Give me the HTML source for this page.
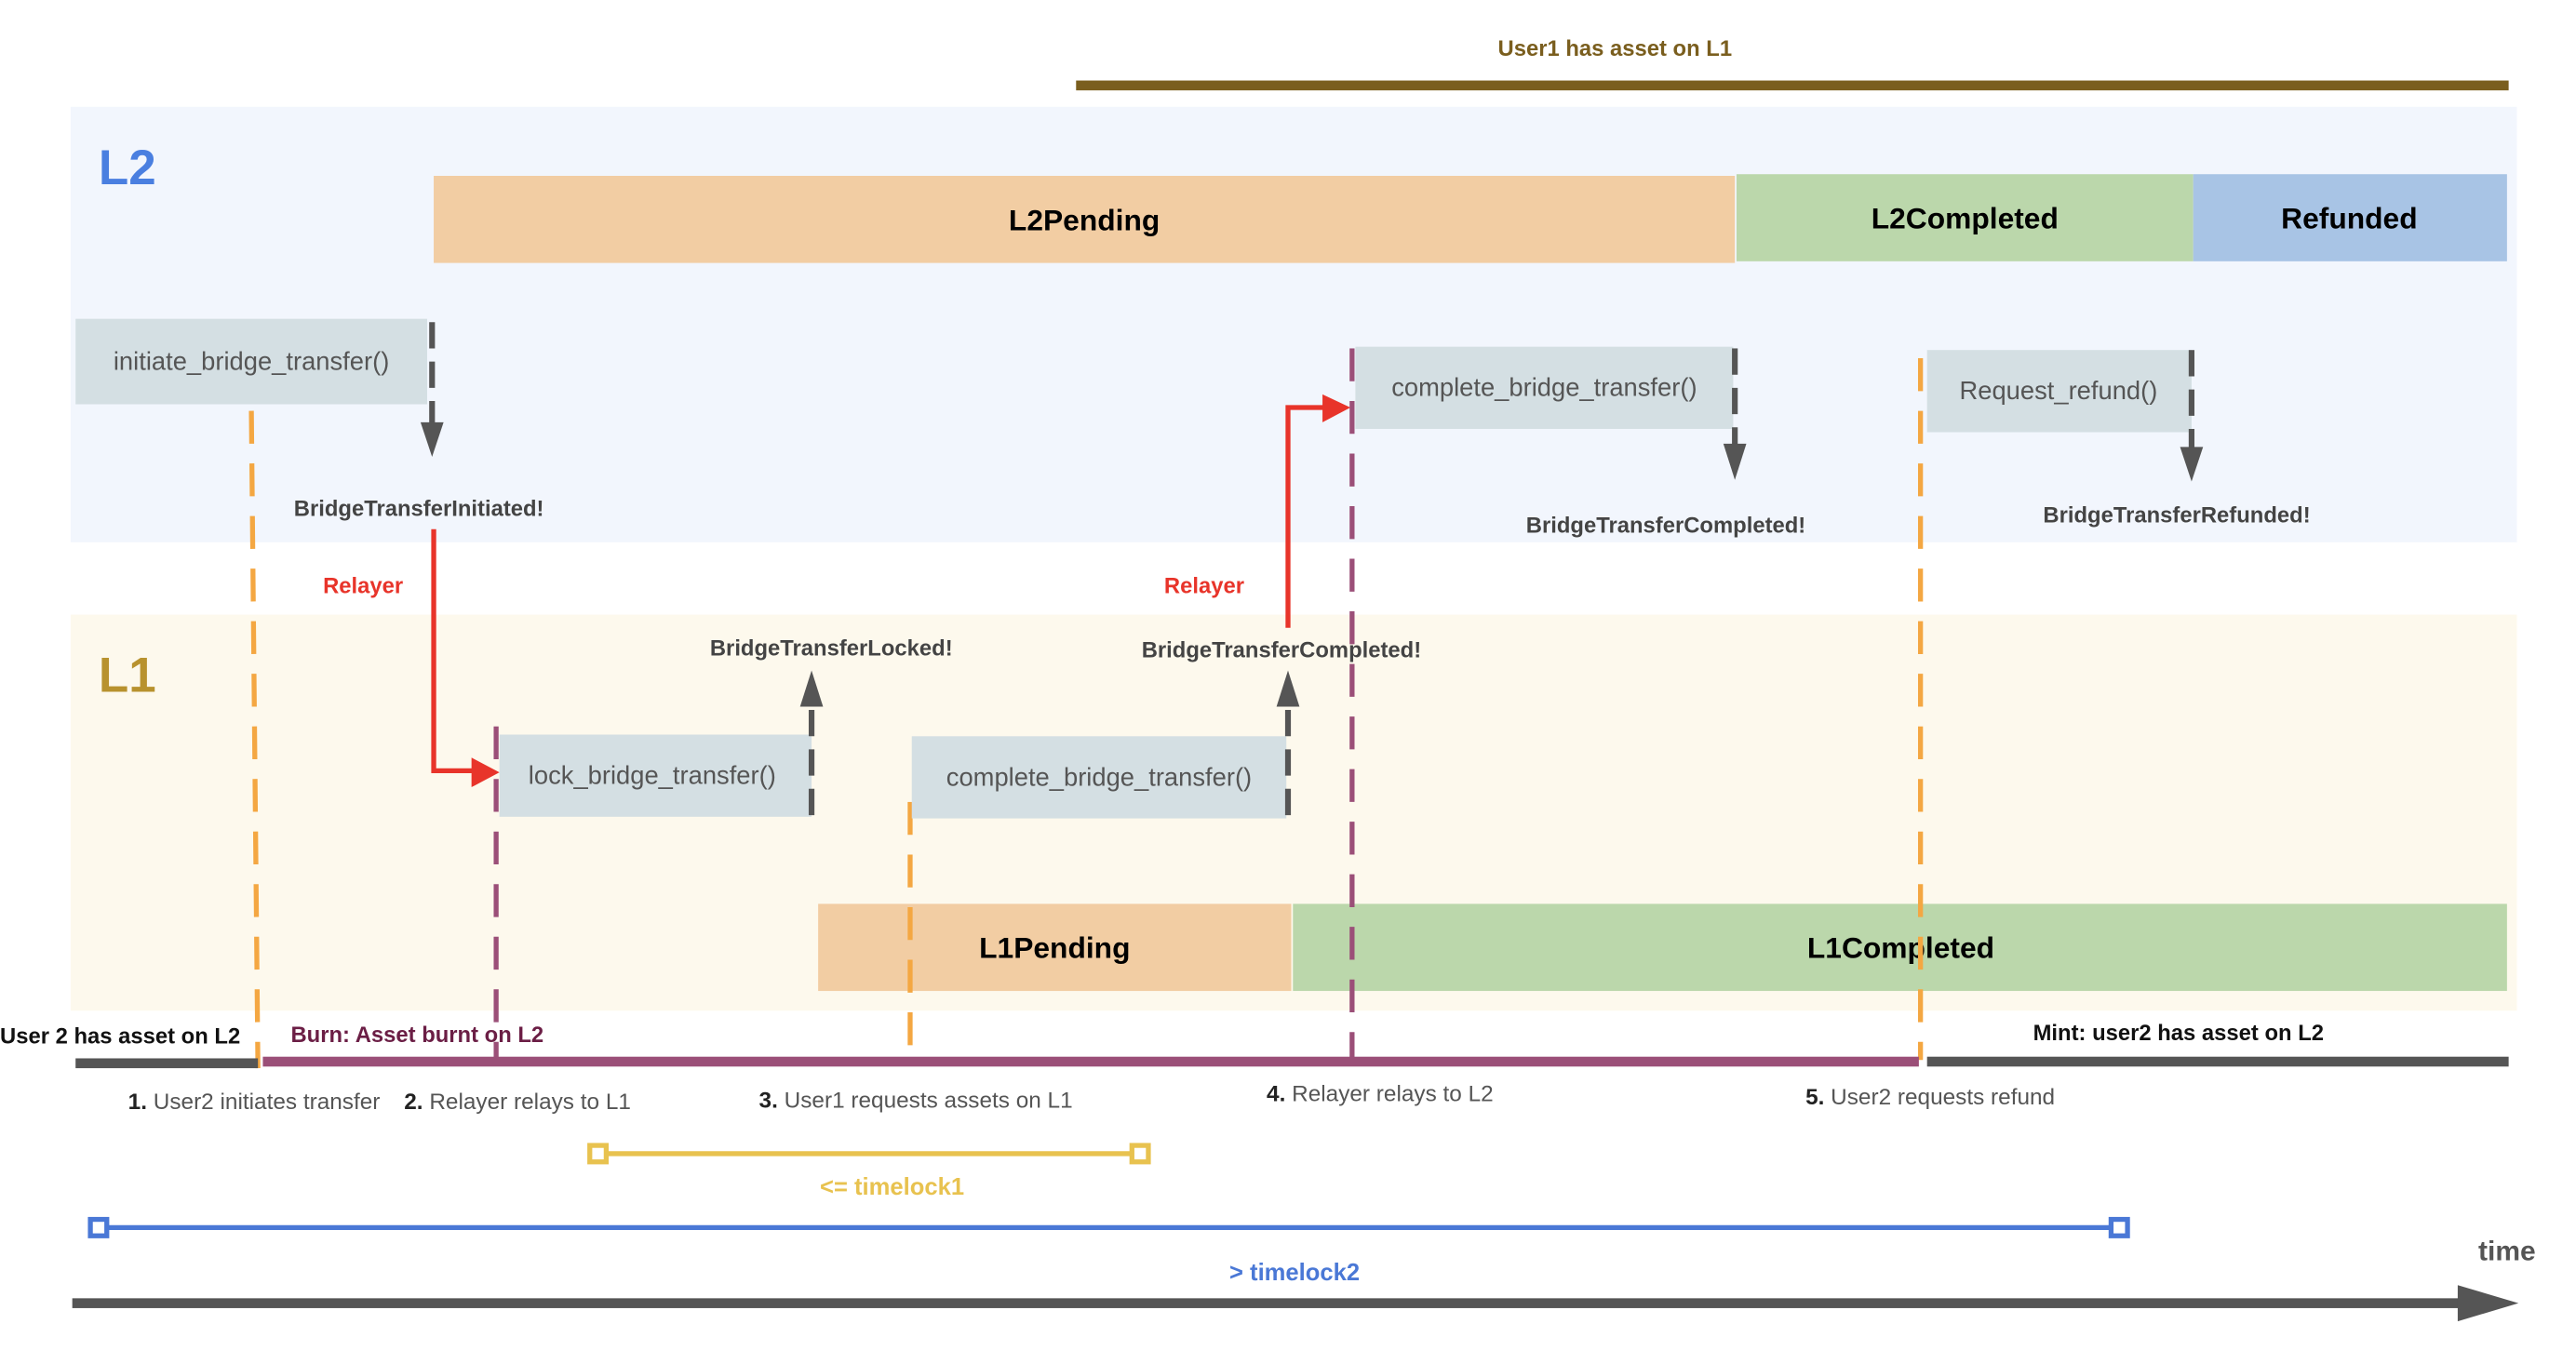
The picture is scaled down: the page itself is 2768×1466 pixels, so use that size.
<!DOCTYPE html>
<html><head><meta charset="utf-8"><style>html,body{margin:0;padding:0;background:#fff}svg{display:block}</style></head>
<body>
<svg width="2768" height="1466" viewBox="0 0 1568 830" preserveAspectRatio="none" xmlns="http://www.w3.org/2000/svg" font-family="Liberation Sans, Arial, sans-serif">
<!-- lanes -->
<rect x="43" y="65" width="1489" height="265" fill="#f2f6fd"/>
<rect x="43" y="374" width="1489" height="241" fill="#fdf9ed"/>
<text x="60" y="112" font-size="30" font-weight="bold" fill="#4a7fe0">L2</text>
<text x="60" y="421" font-size="30" font-weight="bold" fill="#b8922e">L1</text>
<!-- top bar -->
<text x="983" y="34" font-size="13.5" font-weight="bold" fill="#7a5e1e" text-anchor="middle">User1 has asset on L1</text>
<rect x="655" y="49" width="872" height="6" fill="#7a5e1e"/>
<!-- L2 states -->
<rect x="264" y="107" width="792" height="53" fill="#f2cda3"/>
<text x="660" y="140" font-size="18" font-weight="bold" text-anchor="middle">L2Pending</text>
<rect x="1057" y="106" width="278" height="53" fill="#bbd7ab"/>
<text x="1196" y="139" font-size="18" font-weight="bold" text-anchor="middle">L2Completed</text>
<rect x="1335" y="106" width="191" height="53" fill="#a8c4e5"/>
<text x="1430" y="139" font-size="18" font-weight="bold" text-anchor="middle">Refunded</text>
<!-- L1 states -->
<rect x="498" y="550" width="288" height="53" fill="#f2cda3"/>
<text x="642" y="583" font-size="18" font-weight="bold" text-anchor="middle">L1Pending</text>
<rect x="787" y="550" width="739" height="53" fill="#bbd7ab"/>
<text x="1157" y="583" font-size="18" font-weight="bold" text-anchor="middle">L1Completed</text>
<!-- vertical dashed lines -->
<g stroke-width="3" fill="none" stroke-dasharray="20,12">
<line x1="153" y1="250" x2="157" y2="650" stroke="#f4a742"/>
<line x1="554" y1="488" x2="554" y2="645" stroke="#f4a742"/>
<line x1="1169" y1="218" x2="1169" y2="645" stroke="#f4a742"/>
<line x1="302" y1="442" x2="302" y2="645" stroke="#9b4f78"/>
<line x1="823" y1="212" x2="823" y2="645" stroke="#9b4f78"/>
</g>
<!-- function boxes -->
<rect x="46" y="194" width="214" height="52" fill="#d4dfe3"/>
<text x="153" y="225" font-size="15.5" fill="#555" text-anchor="middle">initiate_bridge_transfer()</text>
<rect x="304" y="447" width="190" height="50" fill="#d4dfe3"/>
<text x="397" y="477" font-size="15.5" fill="#555" text-anchor="middle">lock_bridge_transfer()</text>
<rect x="555" y="448" width="228" height="50" fill="#d4dfe3"/>
<text x="669" y="478" font-size="15.5" fill="#555" text-anchor="middle">complete_bridge_transfer()</text>
<rect x="825" y="211" width="230" height="50" fill="#d4dfe3"/>
<text x="940" y="241" font-size="15.5" fill="#555" text-anchor="middle">complete_bridge_transfer()</text>
<rect x="1173" y="213" width="161" height="50" fill="#d4dfe3"/>
<text x="1253" y="243" font-size="15.5" fill="#555" text-anchor="middle">Request_refund()</text>
<!-- event arrows -->
<g stroke="#555" stroke-width="3.5" stroke-dasharray="16,8" fill="none">
<line x1="263" y1="196" x2="263" y2="258"/>
<line x1="494" y1="496" x2="494" y2="430"/>
<line x1="784" y1="496" x2="784" y2="430"/>
<line x1="1056" y1="212" x2="1056" y2="272"/>
<line x1="1334" y1="213" x2="1334" y2="274"/>
</g>
<g fill="#555">
<path d="M256,257 L270,257 L263,278 z"/>
<path d="M487,430 L501,430 L494,408 z"/>
<path d="M777,430 L791,430 L784,408 z"/>
<path d="M1049,270 L1063,270 L1056,292 z"/>
<path d="M1327,272 L1341,272 L1334,293 z"/>
</g>
<g font-size="13.5" font-weight="bold" fill="#444" text-anchor="middle">
<text x="255" y="314">BridgeTransferInitiated!</text>
<text x="506" y="399">BridgeTransferLocked!</text>
<text x="780" y="400">BridgeTransferCompleted!</text>
<text x="1014" y="324">BridgeTransferCompleted!</text>
<text x="1325" y="318">BridgeTransferRefunded!</text>
</g>
<!-- relayer arrows -->
<g stroke="#e8342a" stroke-width="3" fill="none">
<polyline points="264,322 264,469 290,469"/>
<polyline points="784,382 784,248 808,248"/>
</g>
<path d="M287,461 L304,470 L287,479 z" fill="#e8342a"/>
<path d="M805,240 L822,248 L805,257 z" fill="#e8342a"/>
<text x="221" y="361" font-size="13.5" font-weight="bold" fill="#e8342a" text-anchor="middle">Relayer</text>
<text x="733" y="361" font-size="13.5" font-weight="bold" fill="#e8342a" text-anchor="middle">Relayer</text>
<!-- asset bars -->
<text x="0" y="635" font-size="13.5" font-weight="bold" fill="#111">User 2 has asset on L2</text>
<text x="177" y="634" font-size="13.5" font-weight="bold" fill="#6b1e45">Burn: Asset burnt on L2</text>
<text x="1326" y="633" font-size="13.5" font-weight="bold" fill="#111" text-anchor="middle">Mint: user2 has asset on L2</text>
<rect x="46" y="644" width="111" height="6" fill="#555"/>
<rect x="160" y="643" width="1008" height="6" fill="#9b4f78"/>
<rect x="1173" y="643" width="354" height="6" fill="#555"/>
<!-- step labels -->
<g font-size="13.8" fill="#555">
<text x="78" y="675"><tspan font-weight="bold" fill="#222">1.</tspan> User2 initiates transfer</text>
<text x="246" y="675"><tspan font-weight="bold" fill="#222">2.</tspan> Relayer relays to L1</text>
<text x="462" y="674"><tspan font-weight="bold" fill="#222">3.</tspan> User1 requests assets on L1</text>
<text x="771" y="670"><tspan font-weight="bold" fill="#222">4.</tspan> Relayer relays to L2</text>
<text x="1099" y="672"><tspan font-weight="bold" fill="#222">5.</tspan> User2 requests refund</text>
</g>
<!-- timelocks -->
<line x1="364" y1="702" x2="694" y2="702" stroke="#e8c24f" stroke-width="3"/>
<rect x="359" y="697" width="10" height="10" fill="#fff" stroke="#e8c24f" stroke-width="3"/>
<rect x="689" y="697" width="10" height="10" fill="#fff" stroke="#e8c24f" stroke-width="3"/>
<text x="543" y="727" font-size="14.5" font-weight="bold" fill="#e8c24f" text-anchor="middle">&lt;= timelock1</text>
<line x1="60" y1="747" x2="1290" y2="747" stroke="#4a78d6" stroke-width="3"/>
<rect x="55" y="742" width="10" height="10" fill="#fff" stroke="#4a78d6" stroke-width="3"/>
<rect x="1285" y="742" width="10" height="10" fill="#fff" stroke="#4a78d6" stroke-width="3"/>
<text x="788" y="779" font-size="14.5" font-weight="bold" fill="#4a78d6" text-anchor="middle">&gt; timelock2</text>
<!-- time axis -->
<rect x="44" y="790" width="1470" height="6" fill="#555"/>
<path d="M1496,782 L1533,793 L1496,804 z" fill="#555"/>
<text x="1526" y="767" font-size="17" font-weight="bold" fill="#555" text-anchor="middle">time</text>
</svg>
</body></html>
